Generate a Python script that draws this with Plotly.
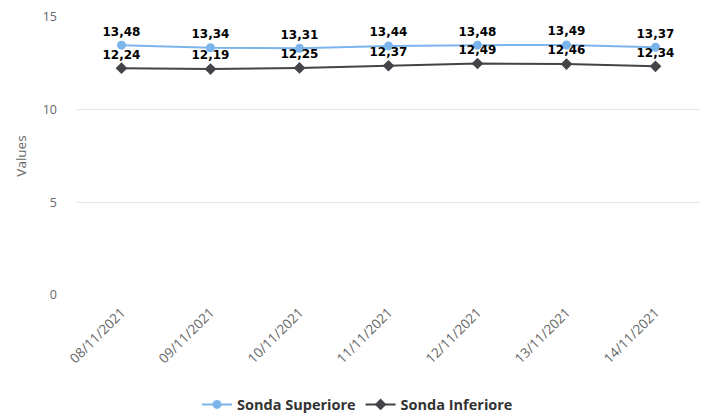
import plotly.graph_objects as go

categories = ["08/11/2021", "09/11/2021", "10/11/2021", "11/11/2021", "12/11/2021", "13/11/2021", "14/11/2021"]
sonda_superiore = [13.48, 13.34, 13.31, 13.44, 13.48, 13.49, 13.37]
sonda_inferiore = [12.24, 12.19, 12.25, 12.37, 12.49, 12.46, 12.34]

FONT = "DejaVu Sans"
AXFONT = "Open Sans"

def labels(vals):
    return ["<b>" + f"{v:.2f}".replace(".", ",") + "</b>" for v in vals]

fig = go.Figure()
fig.add_trace(go.Scatter(
    x=categories, y=sonda_superiore, name="<b>Sonda Superiore</b>",
    mode="lines+markers+text", text=labels(sonda_superiore), textposition="top center",
    textfont=dict(family=FONT, size=12, color="#000000"),
    line=dict(color="#7cb5ec", width=2),
    marker=dict(symbol="circle", size=9, color="#7cb5ec"),
))
fig.add_trace(go.Scatter(
    x=categories, y=sonda_inferiore, name="<b>Sonda Inferiore</b>",
    mode="lines+markers+text", text=labels(sonda_inferiore), textposition="top center",
    textfont=dict(family=FONT, size=12, color="#000000"),
    line=dict(color="#434348", width=2),
    marker=dict(symbol="diamond", size=9, color="#434348"),
))

fig.update_layout(
    width=715, height=417,
    margin=dict(l=77, r=15, t=17, b=122, autoexpand=False),
    paper_bgcolor="white", plot_bgcolor="white",
    font=dict(family=AXFONT, color="#666666", size=12),
    showlegend=True,
    legend=dict(orientation="h", xref="container", x=0.5, xanchor="center",
                yref="container", y=0.03, yanchor="middle",
                font=dict(family=AXFONT, size=14.5, color="#333333"), itemwidth=30),
    xaxis=dict(type="category", tickangle=-45, showgrid=False, showline=False,
               ticks="", tickfont=dict(family=AXFONT, size=13.5, color="#666666"), range=[-0.5, 6.5],
               ticklabelstandoff=6),
    yaxis=dict(range=[0, 15], tickvals=[0, 5, 10, 15], gridcolor="#e6e6e6", zeroline=False,
               showline=False, tickfont=dict(family=AXFONT, size=12.5, color="#666666"), ticklabelstandoff=19,
               title=dict(text="Values", font=dict(family=AXFONT, size=13.5, color="#666666"), standoff=12)),
)

fig.write_html("out.html", config={"displayModeBar": False},
               post_script="document.body.style.margin='0';document.body.style.overflow='hidden';")
